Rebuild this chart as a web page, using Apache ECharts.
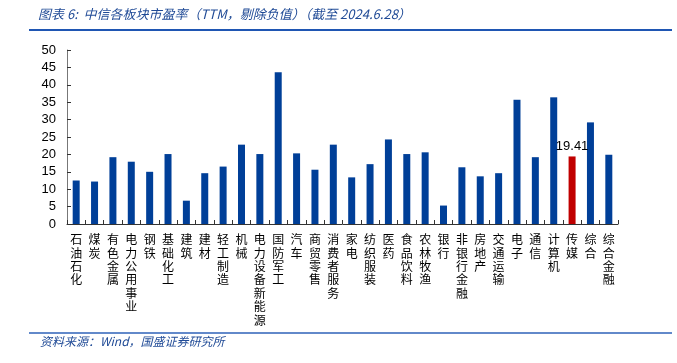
<!DOCTYPE html>
<html>
<head>
<meta charset="utf-8">
<script src="https://cdn.jsdelivr.net/npm/echarts@6/dist/echarts.min.js"></script>
<style>
html,body{margin:0;padding:0;background:#fff;}
#c{width:677px;height:363px;}
</style>
</head>
<body>
<div id="c"></div>
<script>
var categories = ['石油石化','煤炭','有色金属','电力公用事业','钢铁','基础化工','建筑','建材','轻工制造','机械','电力设备新能源','国防军工','汽车','商贸零售','消费者服务','家电','纺织服装','医药','食品饮料','农林牧渔','银行','非银行金融','房地产','交通运输','电子','通信','计算机','传媒','综合','综合金融'];
var peValues = [12.5,12.2,19.2,17.9,15.0,20.1,6.7,14.6,16.5,22.8,20.1,43.6,20.3,15.6,22.8,13.4,17.2,24.3,20.1,20.6,5.3,16.3,13.7,14.6,35.7,19.2,36.4,19.41,29.2,19.9];
var highlightCategory = '传媒';
var yTicks = [0,5,10,15,20,25,30,35,40,45,50];
var titleText = '图表 6:  中信各板块市盈率（TTM，剔除负值）（截至 2024.6.28）';
var sourceText = '资料来源：Wind，国盛证券研究所';

var chart = echarts.init(document.getElementById('c'), null, {renderer:'canvas'});
var barData = categories.map(function(c, i){
  var isHi = c === highlightCategory;
  return {
    value: peValues[i],
    itemStyle: {color: isHi ? '#C00000' : '#003F98'},
    label: isHi ? {show:true, position:'top', distance:4, color:'#000', fontSize:13, fontFamily:'Liberation Sans, Arial, sans-serif', formatter: function(p){return p.value.toFixed(2);}} : {show:false}
  };
});
var option = {
  animation:false,
  backgroundColor:'#fff',
  grid:{left:67, right:59, top:50, bottom:139, containLabel:false},
  xAxis:{
    type:'category',
    data:categories,
    boundaryGap:true,
    axisLine:{lineStyle:{color:'#333', width:1}},
    axisTick:{show:true, inside:true, length:4, alignWithLabel:false, lineStyle:{color:'#333'}},
    axisLabel:{
      interval:0, margin:9, color:'#000', fontSize:12, lineHeight:13.4,
      fontFamily:'Noto Sans CJK SC, sans-serif',
      formatter:function(v){return v.split('').join('\n');}
    }
  },
  yAxis:{
    type:'value', min:yTicks[0], max:yTicks[yTicks.length-1], interval:5,
    splitLine:{show:false},
    axisLine:{show:true, lineStyle:{color:'#777', width:1}},
    axisTick:{show:true, inside:true, length:4, lineStyle:{color:'#333'}},
    axisLabel:{color:'#000', fontSize:13, margin:11, fontFamily:'Liberation Sans, Arial, sans-serif'}
  },
  series:[{
    type:'bar', data:barData, barWidth:7
  }],
  graphic:[
    {type:'text', left:38, top:8, style:{text:titleText, fill:'#1F4A96', fontSize:13, fontStyle:'italic', fontFamily:'Noto Sans CJK SC, sans-serif'}},
    {type:'line', shape:{x1:29, y1:30, x2:672, y2:30}, style:{stroke:'#1F56B3', lineWidth:2}},
    {type:'line', shape:{x1:29, y1:333, x2:672, y2:333}, style:{stroke:'#2E62B8', lineWidth:1.5}},
    {type:'text', left:40, top:335, style:{text:sourceText, fill:'#1F4A96', fontSize:12, fontStyle:'italic', fontFamily:'Noto Sans CJK SC, sans-serif'}}
  ]
};
chart.setOption(option);
</script>
</body>
</html>
